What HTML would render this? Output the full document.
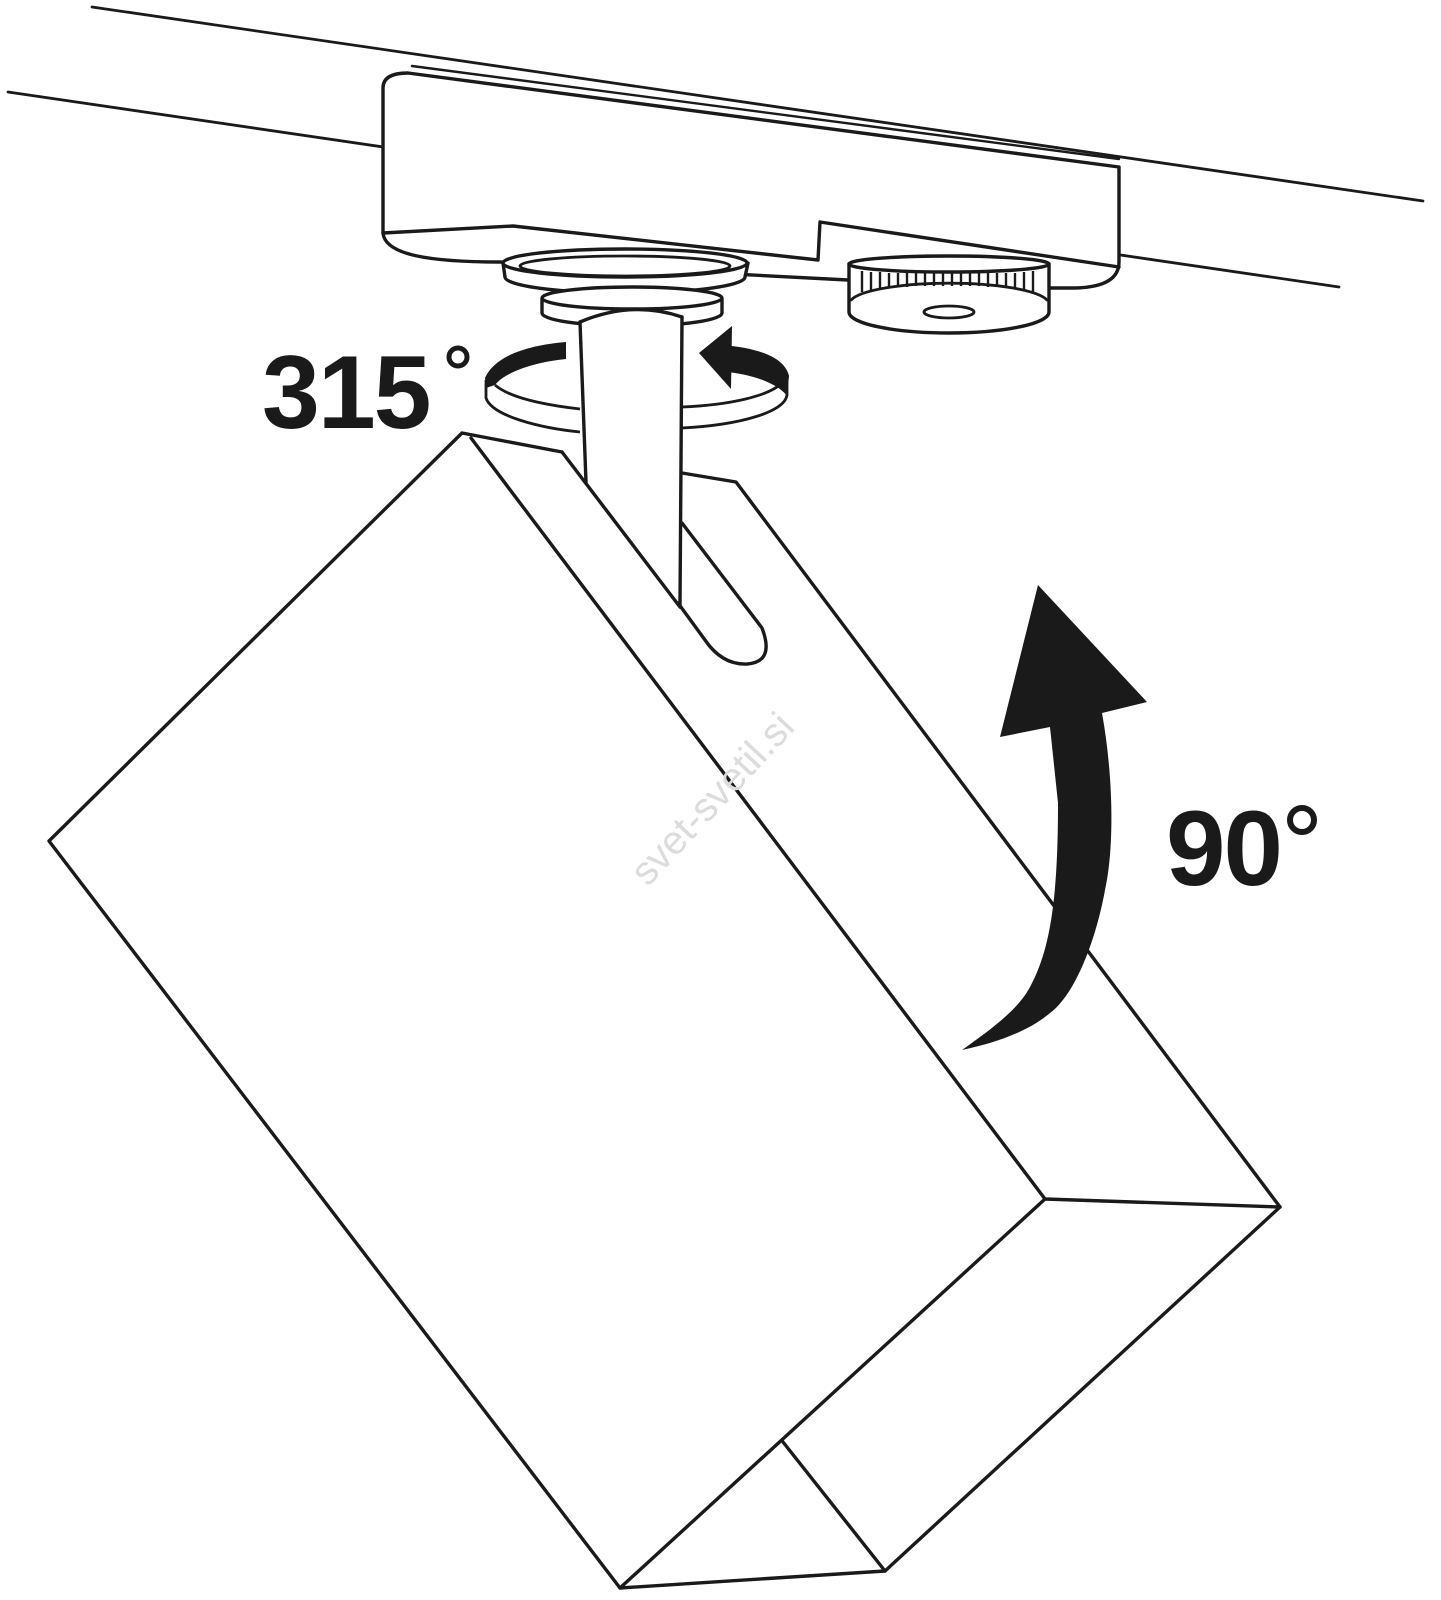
<!DOCTYPE html>
<html><head><meta charset="utf-8"><style>
html,body{margin:0;padding:0;background:#fff;}
svg{display:block;}
</style></head><body>
<svg width="1441" height="1600" viewBox="0 0 1441 1600" xmlns="http://www.w3.org/2000/svg">
<g fill="none" stroke="#1a1a1a" stroke-width="3.4" stroke-linejoin="round" stroke-linecap="round">
<!-- rails -->
<line x1="92" y1="7" x2="1423" y2="201" stroke-width="2.8"/>
<line x1="8" y1="92" x2="1339" y2="287" stroke-width="2.8"/>
<!-- adapter body -->
<path d="M383,233 L383,88 Q383,73 408,73 L1119,167 L1119,262 Q1119,287 1075,288 L1050,288 L848,280 L500,262 C430,262 385,255 383,233 Z" fill="#fff"/>
<line x1="412" y1="66" x2="1119" y2="159" stroke-width="2.4"/>
<path d="M383,233 L513,226 L818,260 L820,222 L1119,267"/>
<!-- flange ring -->
<path d="M503,263 L505,277 A120,16 0 0,0 745,277 L748,263" fill="#fff"/>
<ellipse cx="625" cy="263" rx="122" ry="14" fill="#fff"/>
<ellipse cx="625" cy="266" rx="105" ry="10" stroke-width="2.8"/>
<!-- collar -->
<path d="M542,299 L542,313 A90,13 0 0,0 722,313 L722,299" fill="#fff"/>
<ellipse cx="632" cy="298" rx="90" ry="11" fill="#fff"/>
<!-- knob -->
<path d="M849,264 L849,312 A100,21 0 0,0 1049,312 L1049,264" fill="#fff"/>
<ellipse cx="949" cy="264" rx="100" ry="8" fill="#fff"/>
<path d="M851,300 A100,21 0 0,1 1047,300" stroke-width="2.8"/>
<ellipse cx="949" cy="312" rx="25" ry="6" stroke-width="2.8"/>
</g>
<g stroke="#1a1a1a" stroke-width="2.4">
<line x1="862" y1="271" x2="862" y2="292"/><line x1="871" y1="272" x2="871" y2="290"/><line x1="880" y1="272" x2="880" y2="289"/><line x1="889" y1="273" x2="889" y2="288"/><line x1="898" y1="273" x2="898" y2="287"/><line x1="907" y1="273" x2="907" y2="287"/><line x1="916" y1="273" x2="916" y2="286"/><line x1="925" y1="273" x2="925" y2="286"/><line x1="934" y1="273" x2="934" y2="286"/><line x1="943" y1="273" x2="943" y2="286"/><line x1="952" y1="273" x2="952" y2="286"/><line x1="961" y1="273" x2="961" y2="286"/><line x1="970" y1="273" x2="970" y2="286"/><line x1="979" y1="273" x2="979" y2="286"/><line x1="988" y1="273" x2="988" y2="287"/><line x1="997" y1="273" x2="997" y2="287"/><line x1="1006" y1="273" x2="1006" y2="288"/><line x1="1015" y1="273" x2="1015" y2="289"/><line x1="1024" y1="272" x2="1024" y2="290"/><line x1="1033" y1="271" x2="1033" y2="292"/>
</g>
<!-- rotation ring -->
<g fill="none" stroke="#1a1a1a" stroke-width="2.8">
<path d="M486,380 L486,398 C492,416 540,428 580,432"/>
<path d="M495,385 C510,398 545,405 580,409"/>
<path d="M682,407 C730,405 770,396 783,382"/>
<path d="M682,428 C740,425 785,412 787,395 L787,378"/>
</g>
<g fill="#1a1a1a">
<path d="M566,342 C530,345 495,355 485,378 L486,388 L495,385 C505,372 535,362 566,359 Z"/>
<path d="M722,345 C760,348 785,358 789,376 L787,396 C780,386 760,376 728,372 Z"/>
<path d="M732,326 L699,353 L731,389 Z"/>
</g>
<!-- stem -->
<path d="M580,322 Q632,300 682,317 L680,605 L586,482 Z" fill="#fff" stroke="none"/>
<g fill="none" stroke="#1a1a1a" stroke-width="3.4" stroke-linejoin="round" stroke-linecap="round">
<path d="M580,322 Q632,300 682,317"/>
<line x1="580" y1="322" x2="586" y2="482"/>
<line x1="682" y1="317" x2="680" y2="605"/>
<!-- box -->
<path d="M562,452 L462,433 L49,841 L620,1588 L885,1571 L1280,1207 L736,482 L682,473"/>
<path d="M562,452 L680,607"/>
<path d="M471,438 L1045,1199 L1280,1207"/>
<path d="M1045,1199 L620,1588"/>
<path d="M783,1442 L885,1571"/>
<!-- slot -->
<path d="M682,523 L762,628 Q775,662 747,664 Q722,665 705,640 L678,603"/>
</g>
<!-- 90 arrow -->
<path fill="#1a1a1a" d="M1038,585 L1147,702 L1102,713 C1114,780 1114,850 1105,890 C1096,940 1075,995 1050,1013 C1030,1030 1000,1042 962,1050 C990,1030 1018,1010 1030,987 C1050,950 1058,900 1058,803 L1050,727 L1000,737 Z"/>
<!-- labels -->
<g font-family="'Liberation Sans', sans-serif" font-weight="bold" fill="#1a1a1a">
<text x="262" y="428" font-size="104" letter-spacing="-2">315</text>
<text x="1166" y="885" font-size="107" letter-spacing="-2">90</text>
</g>
<circle cx="458" cy="357" r="9" fill="none" stroke="#1a1a1a" stroke-width="5"/>
<circle cx="1302" cy="820" r="12" fill="none" stroke="#1a1a1a" stroke-width="6"/>
<!-- watermark -->
<text x="722" y="808" font-family="'Liberation Sans', sans-serif" font-size="40" fill="#dcdcdc" text-anchor="middle" transform="rotate(-47 722 808)">svet-svetil.si</text>
</svg>
</body></html>
